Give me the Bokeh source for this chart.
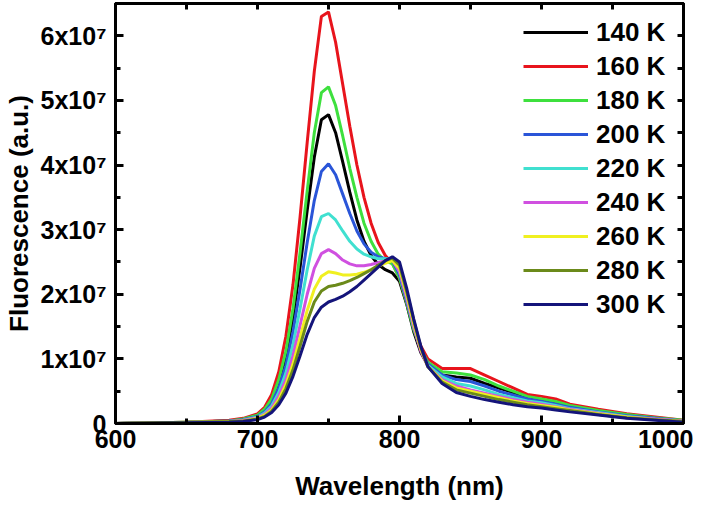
from bokeh.plotting import figure
from bokeh.models import LinearAxis, FixedTicker, Legend, LegendItem
from bokeh.embed import file_html
from bokeh.resources import INLINE

wavelength = [600, 650, 680, 690, 700, 705, 710, 715, 720, 725, 730, 735, 740, 745, 750, 755, 760, 765,
              770, 775, 780, 785, 790, 795, 800, 805, 810, 815, 820, 830, 840, 850, 860, 870, 880, 890,
              900, 910, 920, 940, 960, 980, 1000]

# fluorescence in units of 1e7
t140 = [0, 0.02, 0.04, 0.06, 0.12, 0.2, 0.35, 0.62, 1.03, 1.63, 2.42, 3.3, 4.12, 4.7, 4.78, 4.5, 4.05, 3.58,
        3.15, 2.82, 2.6, 2.46, 2.38, 2.33, 2.2, 1.85, 1.42, 1.1, 0.9, 0.75, 0.72, 0.7, 0.62, 0.55, 0.48, 0.4,
        0.36, 0.32, 0.26, 0.19, 0.13, 0.08, 0.04]
t160 = [0, 0.02, 0.05, 0.08, 0.15, 0.25, 0.45, 0.8, 1.35, 2.15, 3.2, 4.35, 5.45, 6.3, 6.37, 5.9, 5.25, 4.6,
        4.0, 3.5, 3.1, 2.8, 2.6, 2.48, 2.25, 1.88, 1.5, 1.2, 1.0, 0.85, 0.85, 0.85, 0.75, 0.65, 0.55, 0.45,
        0.42, 0.38, 0.3, 0.22, 0.15, 0.1, 0.05]
t180 = [0, 0.02, 0.04, 0.07, 0.13, 0.22, 0.38, 0.68, 1.12, 1.78, 2.65, 3.6, 4.5, 5.12, 5.21, 4.92, 4.45, 3.95,
        3.5, 3.1, 2.82, 2.62, 2.52, 2.47, 2.25, 1.87, 1.45, 1.15, 0.95, 0.8, 0.78, 0.75, 0.68, 0.58, 0.5, 0.42,
        0.38, 0.34, 0.28, 0.2, 0.14, 0.09, 0.05]
t200 = [0, 0.02, 0.04, 0.06, 0.11, 0.18, 0.31, 0.55, 0.9, 1.42, 2.08, 2.8, 3.45, 3.9, 4.02, 3.85, 3.55, 3.25,
        2.98, 2.78, 2.65, 2.58, 2.55, 2.52, 2.3, 1.9, 1.5, 1.15, 0.92, 0.75, 0.68, 0.65, 0.58, 0.5, 0.44, 0.38,
        0.34, 0.3, 0.25, 0.18, 0.12, 0.08, 0.04]
t220 = [0, 0.02, 0.03, 0.05, 0.1, 0.16, 0.27, 0.48, 0.78, 1.22, 1.78, 2.38, 2.9, 3.2, 3.25, 3.15, 2.98, 2.82,
        2.7, 2.62, 2.58, 2.55, 2.55, 2.55, 2.35, 1.95, 1.5, 1.15, 0.9, 0.72, 0.62, 0.58, 0.52, 0.45, 0.4, 0.35,
        0.32, 0.28, 0.23, 0.17, 0.11, 0.07, 0.04]
t240 = [0, 0.02, 0.03, 0.05, 0.09, 0.14, 0.24, 0.42, 0.68, 1.05, 1.52, 2.0, 2.4, 2.63, 2.69, 2.63, 2.53, 2.47,
        2.44, 2.44, 2.46, 2.49, 2.52, 2.53, 2.35, 1.95, 1.5, 1.12, 0.88, 0.68, 0.58, 0.52, 0.47, 0.42, 0.37, 0.33,
        0.3, 0.26, 0.22, 0.16, 0.1, 0.07, 0.04]
t260 = [0, 0.02, 0.03, 0.04, 0.08, 0.13, 0.21, 0.37, 0.6, 0.92, 1.33, 1.75, 2.08, 2.28, 2.35, 2.33, 2.3, 2.3,
        2.31, 2.34, 2.38, 2.43, 2.48, 2.52, 2.4, 2.0, 1.55, 1.15, 0.88, 0.66, 0.55, 0.5, 0.45, 0.4, 0.35, 0.31,
        0.28, 0.25, 0.21, 0.15, 0.1, 0.06, 0.03]
t280 = [0, 0.02, 0.03, 0.04, 0.07, 0.11, 0.19, 0.33, 0.54, 0.83, 1.2, 1.58, 1.88, 2.05, 2.12, 2.14, 2.17, 2.21,
        2.26, 2.32, 2.38, 2.45, 2.52, 2.56, 2.45, 2.05, 1.6, 1.18, 0.88, 0.64, 0.52, 0.47, 0.42, 0.37, 0.33, 0.29,
        0.26, 0.23, 0.2, 0.14, 0.09, 0.06, 0.03]
t300 = [0, 0.01, 0.02, 0.03, 0.06, 0.1, 0.17, 0.29, 0.47, 0.73, 1.05, 1.38, 1.64, 1.8, 1.88, 1.92, 1.97, 2.04,
        2.12, 2.22, 2.32, 2.42, 2.52, 2.58, 2.5, 2.1, 1.62, 1.2, 0.88, 0.62, 0.48, 0.42, 0.37, 0.33, 0.29, 0.26,
        0.24, 0.21, 0.18, 0.13, 0.08, 0.05, 0.02]

series = [t140, t160, t180, t200, t220, t240, t260, t280, t300]
labels = ["140 K", "160 K", "180 K", "200 K", "220 K", "240 K", "260 K", "280 K", "300 K"]
colors = ["#000000", "#e8141c", "#3ee03e", "#2a55d8", "#40e0d0", "#d050e0", "#f0f020", "#6b8a1a", "#14147a"]

x_ticks = [600, 700, 800, 900, 1000]
x_minor = [650, 750, 850, 950]
y_ticks = [0, 1, 2, 3, 4, 5, 6]
y_minor = [0.5, 1.5, 2.5, 3.5, 4.5, 5.5, 6.5]
y_tick_labels = {0: "0", 1: "1x10\u2077", 2: "2x10\u2077", 3: "3x10\u2077", 4: "4x10\u2077",
                 5: "5x10\u2077", 6: "6x10\u2077"}

FONT = "Liberation Sans"

p = figure(frame_width=568, frame_height=420, x_range=(600, 1000), y_range=(0, 6.5),
           output_backend="svg", toolbar_location=None,
           min_border_left=111, min_border_top=3, min_border_right=10, min_border_bottom=10,
           x_axis_label="Wavelength (nm)", y_axis_label="Fluorescence (a.u.)")
p.grid.visible = False
p.outline_line_color = "black"
p.outline_line_width = 3
p.background_fill_color = "white"
p.border_fill_color = "white"

lines = []
for s, lab, c in zip(series, labels, colors):
    r = p.line(wavelength, s, line_color=c, line_width=3)
    lines.append(LegendItem(label=lab, renderers=[r]))


def style_axis(ax):
    ax.axis_line_width = 3
    ax.axis_line_color = "black"
    ax.major_tick_line_width = 3
    ax.minor_tick_line_width = 3
    ax.major_tick_in = 8
    ax.major_tick_out = 0
    ax.minor_tick_in = 5
    ax.minor_tick_out = 0
    ax.major_label_text_font = FONT
    ax.major_label_text_font_style = "bold"
    ax.major_label_text_color = "black"
    ax.major_label_text_font_size = "25px"
    ax.axis_label_text_font = FONT
    ax.axis_label_text_font_style = "bold"
    ax.axis_label_text_color = "black"
    ax.axis_label_text_font_size = "26px"


xa = p.xaxis[0]
style_axis(xa)
xa.ticker = FixedTicker(ticks=x_ticks, minor_ticks=x_minor)
xa.major_label_standoff = 6
xa.axis_label_standoff = 20

ya = p.yaxis[0]
style_axis(ya)
ya.ticker = FixedTicker(ticks=y_ticks, minor_ticks=y_minor)
ya.major_label_overrides = y_tick_labels
ya.major_label_standoff = 9
ya.axis_label_standoff = 4

# mirror axes (ticks only, no labels)
top = LinearAxis(ticker=FixedTicker(ticks=[], minor_ticks=x_ticks + x_minor))
style_axis(top)
top.minor_tick_in = 6
top.major_label_standoff = 0
top.axis_label_standoff = 0
p.add_layout(top, "above")
right = LinearAxis(ticker=FixedTicker(ticks=[], minor_ticks=y_ticks + y_minor))
style_axis(right)
right.minor_tick_in = 6
right.major_label_standoff = 0
right.axis_label_standoff = 0
p.add_layout(right, "right")

legend = Legend(items=lines, location=(408, 102), border_line_alpha=0, background_fill_alpha=0,
                padding=0, margin=0, spacing=0, glyph_width=65, glyph_height=34, label_height=34,
                label_standoff=8, label_text_font=FONT, label_text_font_style="bold",
                label_text_font_size="26px", label_text_color="black")
p.add_layout(legend)

open("out.html", "w").write(file_html(p, INLINE))
